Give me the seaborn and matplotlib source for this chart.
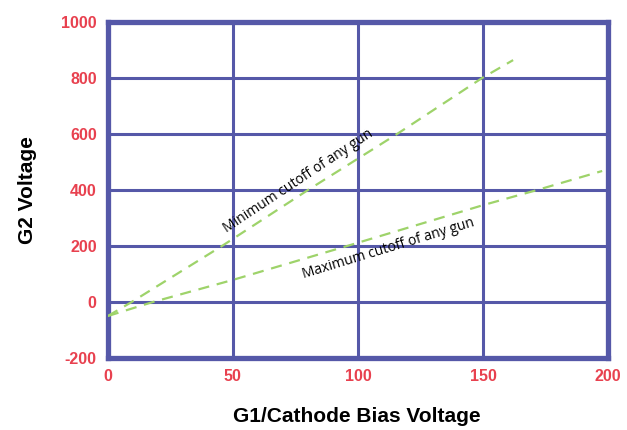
import matplotlib
matplotlib.use('Agg')
import matplotlib.pyplot as plt
import numpy as np
import pandas as pd
import seaborn as sns

# values
min_x = [0, 9.5, 45.6, 80, 115.6, 149.6, 162]
min_y = [-50, 0, 200, 400, 600, 800, 864]
max_x = [0, 18, 50, 95.6, 150, 171.6, 197.6]
max_y = [-50, 0, 79, 200, 346, 400, 468]

x_ticks = [0, 50, 100, 150, 200]
y_ticks = [-200, 0, 200, 400, 600, 800, 1000]

GRID = '#5558a8'
RED = '#e8414f'
GREEN = '#9ed36a'

df = pd.concat([
    pd.DataFrame({'bias': min_x, 'g2': min_y, 'curve': 'min'}),
    pd.DataFrame({'bias': max_x, 'g2': max_y, 'curve': 'max'}),
])

sns.set_style('white')
plt.rcParams['font.family'] = ['Open Sans', 'DejaVu Sans']
plt.rcParams['axes.unicode_minus'] = False

fig = plt.figure(figsize=(6.27, 4.30), dpi=100)
ax = fig.add_axes([0.172, 0.1674, 0.798, 0.7814])

sns.lineplot(data=df, x='bias', y='g2', units='curve', estimator=None,
             ax=ax, color=GREEN, linewidth=1.6, dashes=False, sort=False,
             zorder=3)
for ln in ax.get_lines():
    ln.set_dashes((5, 3.5))

ax.set_xlim(0, 200)
ax.set_ylim(-200, 1000)
ax.set_xticks(x_ticks)
ax.set_yticks(y_ticks)
ax.grid(True, color=GRID, linewidth=2.2, zorder=1)
ax.set_axisbelow(True)
for sp in ax.spines.values():
    sp.set_color(GRID)
    sp.set_linewidth(3.8)
    sp.set_visible(True)

tick_font = dict(family=['Liberation Sans Narrow', 'Liberation Sans'],
                 weight='bold', size=11.5)
ax.tick_params(length=0, pad=8, colors=RED)
for lab in ax.get_xticklabels() + ax.get_yticklabels():
    lab.set_fontproperties(matplotlib.font_manager.FontProperties(**tick_font))
    lab.set_color(RED)

label_font = dict(family=['Liberation Sans', 'DejaVu Sans'], fontsize=15,
                  fontweight='bold', color='black', va='center')
ax.set_xlabel('G1/Cathode Bias Voltage', **label_font)
ax.set_ylabel('G2 Voltage', **label_font)
ax.xaxis.set_label_coords(0.498, -0.173)
ax.yaxis.set_label_coords(-0.16, 0.5)

ax.text(76, 430, 'Minimum cutoff of any gun', rotation=33.5,
        rotation_mode='anchor', ha='center', va='center', fontsize=10,
        fontweight='medium', color='black', zorder=4)
ax.text(112, 192, 'Maximum cutoff of any gun', rotation=17,
        rotation_mode='anchor', ha='center', va='center', fontsize=10,
        fontweight='medium', color='black', zorder=4)

fig.savefig('out.png', dpi=100)
